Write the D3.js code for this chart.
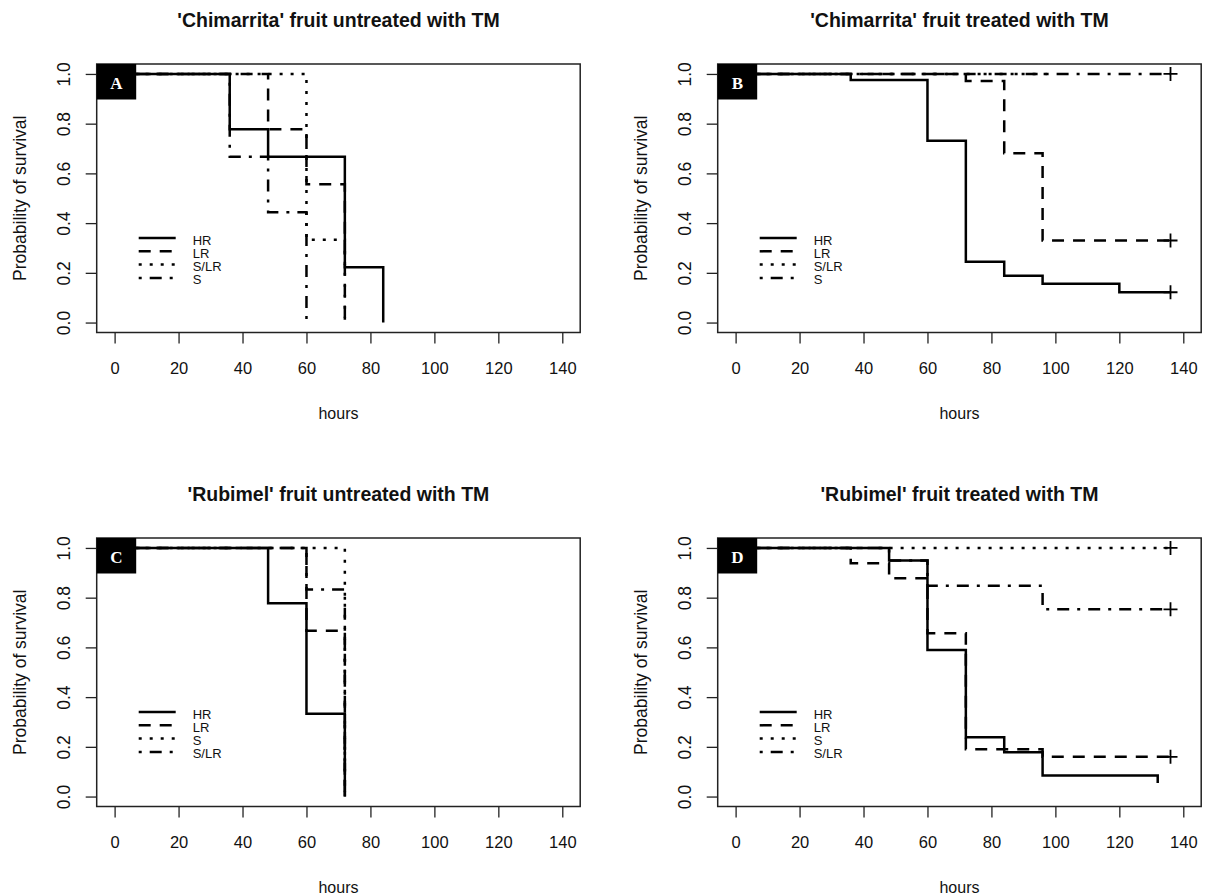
<!DOCTYPE html>
<html>
<head>
<meta charset="utf-8">
<script src="https://cdn.jsdelivr.net/npm/d3@7"></script>
<style>
  body { margin: 0; background: #fff; }
  svg text { font-family: "Liberation Sans", Arial, sans-serif; fill: #111; }
</style>
</head>
<body>
<svg id="chart" width="1207" height="896"></svg>
<script>
// axis ticks
var hourTicks = [0, 20, 40, 60, 80, 100, 120, 140];
var survTicks = [0, 0.2, 0.4, 0.6, 0.8, 1.0];

var titles = ["'Chimarrita' fruit untreated with TM", "'Chimarrita' fruit treated with TM",
              "'Rubimel' fruit untreated with TM", "'Rubimel' fruit treated with TM"];
var letters = ["A", "B", "C", "D"];
var groupsChim = ["HR", "LR", "S/LR", "S"];
var groupsRubi = ["HR", "LR", "S", "S/LR"];

// survival steps [hours, probability], one array per curve (legend order)
var aHR  = [[0, 1], [36, 0.778], [48, 0.667], [72, 0.222], [84, 0]];
var aLR  = [[0, 1], [48, 0.778], [60, 0.556], [72, 0]];
var aSLR = [[0, 1], [60, 0.333], [72, 0]];
var aS   = [[0, 1], [36, 0.667], [48, 0.444], [60, 0]];

var bHR  = [[0, 1], [36, 0.976], [60, 0.731], [72, 0.245], [84, 0.188], [96, 0.156], [120, 0.122], [136, 0.122]];
var bLR  = [[0, 1], [72, 0.972], [84, 0.681], [96, 0.33], [136, 0.33]];
var bSLR = [[0, 1], [98, 1]];
var bS   = [[0, 1], [136, 1]];

var cHR  = [[0, 1], [48, 0.778], [60, 0.333], [72, 0]];
var cLR  = [[0, 1], [60, 0.667], [72, 0]];
var cS   = [[0, 1], [72, 0]];
var cSLR = [[0, 1], [60, 0.833], [72, 0]];

var dHR  = [[0, 1], [48, 0.949], [60, 0.59], [72, 0.239], [84, 0.178], [96, 0.085], [132, 0.055]];
var dLR  = [[0, 1], [36, 0.938], [48, 0.878], [60, 0.657], [72, 0.19], [96, 0.16], [136, 0.16]];
var dS   = [[0, 1], [136, 1]];
var dSLR = [[0, 1], [48, 0.95], [60, 0.848], [96, 0.753], [136, 0.753]];

// whether last point of each curve is censored (+ mark)
var aCens = [false, false, false, false];
var bCens = [true, true, false, true];
var cCens = [false, false, false, false];
var dCens = [false, true, true, true];

var panels = [
  {curves: [aHR, aLR, aSLR, aS], cens: aCens, groups: groupsChim, x0: 96.7, y0: 64},
  {curves: [bHR, bLR, bSLR, bS], cens: bCens, groups: groupsChim, x0: 717.7, y0: 64},
  {curves: [cHR, cLR, cS, cSLR], cens: cCens, groups: groupsRubi, x0: 96.7, y0: 538},
  {curves: [dHR, dLR, dS, dSLR], cens: dCens, groups: groupsRubi, x0: 717.7, y0: 538}
];

// line types by legend position: solid, dashed, dotted, dot-dash
var dashes = [null, "12,9", "3,8", "3,8,12,8"];

var w = 483.5, h = 268.5;
var svg = d3.select("#chart");

// R style 4% padding around 0..140 and 0..1
var x = d3.scaleLinear().domain([-5.6, 145.6]).range([0, w]);
var y = d3.scaleLinear().domain([-0.04, 1.04]).range([h, 0]);

var line = d3.line()
    .x(function(d){ return x(d[0]); })
    .y(function(d){ return y(d[1]); })
    .curve(d3.curveStepAfter);

panels.forEach(function(p, i){
    var g = svg.append("g").attr("transform", "translate(" + p.x0 + "," + p.y0 + ")");

    // title
    g.append("text")
        .attr("x", w / 2).attr("y", -37)
        .attr("text-anchor", "middle")
        .style("font-size", "19.5px").style("font-weight", "bold")
        .text(titles[i]);

    // x axis
    var xa = g.append("g").attr("transform", "translate(0," + h + ")")
        .call(d3.axisBottom(x).tickValues(hourTicks).tickSize(11).tickSizeOuter(0).tickPadding(19));
    xa.select(".domain").remove();
    xa.selectAll("line").attr("stroke", "#222").attr("stroke-width", 1.3);
    xa.selectAll("text").style("font-size", "16.5px").style("font-family", "Liberation Sans, Arial, sans-serif").attr("fill", "#111");

    // y axis
    var ya = g.append("g")
        .call(d3.axisLeft(y).tickValues(survTicks).tickSize(11).tickSizeOuter(0).tickFormat(d3.format(".1f")));
    ya.select(".domain").remove();
    ya.selectAll("line").attr("stroke", "#222").attr("stroke-width", 1.3);
    ya.selectAll("text")
        .attr("x", null).attr("dy", null)
        .attr("text-anchor", "middle")
        .attr("transform", "translate(-26.5,0) rotate(-90)")
        .style("font-size", "17.5px").style("font-family", "Liberation Sans, Arial, sans-serif").attr("fill", "#111");

    // axis titles
    g.append("text")
        .attr("transform", "translate(-70.5," + (h / 2) + ") rotate(-90)")
        .attr("text-anchor", "middle")
        .style("font-size", "17.5px")
        .text("Probability of survival");
    g.append("text")
        .attr("x", w / 2).attr("y", h + 86)
        .attr("text-anchor", "middle")
        .style("font-size", "16px")
        .text("hours");

    // curves
    p.curves.forEach(function(c, k){
        g.append("path")
            .datum(c)
            .attr("d", line)
            .attr("fill", "none")
            .attr("stroke", "#000")
            .attr("stroke-width", 2.5)
            .attr("stroke-dasharray", dashes[k]);
        if(p.cens[k]){
            var last = c[c.length - 1];
            var cx = x(last[0]), cy = y(last[1]);
            g.append("path")
                .attr("d", "M" + (cx - 7) + "," + cy + "H" + (cx + 7) + "M" + cx + "," + (cy - 7) + "V" + (cy + 7))
                .attr("stroke", "#000")
                .attr("stroke-width", 1.8);
        }
    });

    // legend
    var lg = g.append("g");
    p.groups.forEach(function(name, k){
        var ly = 174 + k * 13.3;
        lg.append("line")
            .attr("x1", 42).attr("x2", 79)
            .attr("y1", ly).attr("y2", ly)
            .attr("stroke", "#000").attr("stroke-width", 2.5)
            .attr("stroke-dasharray", dashes[k]);
        lg.append("text")
            .attr("x", 96).attr("y", ly + 6.5)
            .style("font-size", "13px")
            .text(name);
    });

    // frame
    g.append("rect")
        .attr("width", w).attr("height", h)
        .attr("fill", "none").attr("stroke", "#222").attr("stroke-width", 1.5);

    // panel letter
    g.append("rect")
        .attr("width", 39.5).attr("height", 35.5)
        .attr("fill", "#000");
    g.append("text")
        .attr("x", 19.7).attr("y", 24.5)
        .attr("text-anchor", "middle")
        .style("font-family", "Liberation Serif, Times New Roman, serif")
        .style("font-weight", "bold")
        .style("font-size", "17px")
        .style("fill", "#fff")
        .text(letters[i]);
});
</script>
</body>
</html>
